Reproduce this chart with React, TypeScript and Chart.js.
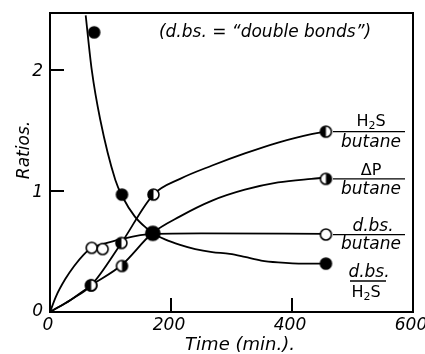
import { useEffect, useRef } from "react";
import { Chart, registerables } from "chart.js";
Chart.register(...registerables);

// Axis ticks
const X_TICKS = [0, 200, 400, 600];
const Y_TICKS = [0, 1, 2];
const X_TICK_LABELS = ["0", "200", "400", "600"];
const Y_TICK_LABELS = ["0", "1", "2"];

// Measured points
const dbsH2sX = [73, 119, 170, 456];
const dbsH2sY = [2.31, 0.97, 0.65, 0.4];
const h2sButaneX = [68, 118, 171, 456];
const h2sButaneY = [0.22, 0.57, 0.97, 1.49];
const dpButaneX = [68, 119, 169, 456];
const dpButaneY = [0.22, 0.38, 0.65, 1.1];
const dbsButaneX = [69, 87, 456];
const dbsButaneY = [0.53, 0.52, 0.64];

// Drawn (fitted) curves
const dbsH2sCurveX = [59, 69, 83, 108, 120, 140, 160, 170, 190, 215, 240, 268, 297, 322, 349, 377, 420, 456];
const dbsH2sCurveY = [2.45, 2.0, 1.59, 1.09, 0.95, 0.79, 0.69, 0.65, 0.6, 0.555, 0.52, 0.495, 0.48, 0.455, 0.425, 0.41, 0.4, 0.4];
const h2sCurveX = [0, 34, 68, 118, 171, 215, 268, 322, 377, 432, 456];
const h2sCurveY = [0, 0.1, 0.22, 0.57, 0.97, 1.1, 1.21, 1.31, 1.4, 1.47, 1.49];
const dpCurveX = [0, 34, 68, 119, 169, 215, 268, 322, 377, 432, 456];
const dpCurveY = [0, 0.1, 0.22, 0.39, 0.65, 0.79, 0.92, 1.01, 1.07, 1.1, 1.11];
const dbsButaneCurveX = [0, 10, 25, 40, 55, 69, 87, 116, 169, 250, 456];
const dbsButaneCurveY = [0, 0.13, 0.27, 0.38, 0.47, 0.53, 0.56, 0.6, 0.645, 0.65, 0.645];

const pts = (xs: number[], ys: number[]) => xs.map((x, i) => ({ x, y: ys[i] }));

function makeMarker(kind: string, r: number): HTMLCanvasElement {
  const s = Math.ceil(2 * r + 4);
  const c = document.createElement("canvas");
  c.width = s;
  c.height = s;
  const g = c.getContext("2d")!;
  const cx = s / 2, cy = s / 2;
  g.lineWidth = 1.6;
  g.beginPath();
  g.arc(cx, cy, r, 0, Math.PI * 2);
  g.fillStyle = kind === "filled" ? "#000" : "#fff";
  g.fill();
  if (kind === "halfLeft" || kind === "halfRight") {
    g.beginPath();
    if (kind === "halfLeft") g.arc(cx, cy, r, Math.PI / 2, Math.PI * 1.5);
    else g.arc(cx, cy, r, -Math.PI / 2, Math.PI / 2);
    g.closePath();
    g.fillStyle = "#000";
    g.fill();
  }
  g.beginPath();
  g.arc(cx, cy, r, 0, Math.PI * 2);
  g.strokeStyle = "#000";
  g.stroke();
  return c;
}

const ITAL = "italic 17px 'DejaVu Sans'";
const UPR = "16px 'DejaVu Sans'";

function drawH2S(ctx: CanvasRenderingContext2D, cx: number, baseY: number) {
  ctx.save();
  ctx.font = UPR;
  ctx.textBaseline = "alphabetic";
  ctx.textAlign = "left";
  const wH = ctx.measureText("H").width;
  ctx.font = "11px 'DejaVu Sans'";
  const w2 = ctx.measureText("2").width;
  ctx.font = UPR;
  const wS = ctx.measureText("S").width;
  const total = wH + w2 + wS;
  let x = cx - total / 2;
  ctx.fillText("H", x, baseY);
  x += wH;
  ctx.font = "11px 'DejaVu Sans'";
  ctx.fillText("2", x, baseY + 3);
  x += w2;
  ctx.font = UPR;
  ctx.fillText("S", x, baseY);
  ctx.restore();
}

const decor = {
  id: "decor",
  afterDraw(chart: any) {
    const { ctx, chartArea: a, scales } = chart;
    const xs = scales.x, ys = scales.y;
    ctx.save();
    ctx.strokeStyle = "#000";
    ctx.fillStyle = "#000";
    ctx.lineWidth = 2;
    ctx.strokeRect(a.left, a.top, a.right - a.left, a.bottom - a.top);
    // inward ticks
    ctx.beginPath();
    X_TICKS.forEach((v) => {
      if (v === 0 || v === 600) return;
      const px = xs.getPixelForValue(v);
      ctx.moveTo(px, a.bottom);
      ctx.lineTo(px, a.bottom - 14);
    });
    Y_TICKS.forEach((v) => {
      if (v === 0) return;
      const py = ys.getPixelForValue(v);
      ctx.moveTo(a.left, py);
      ctx.lineTo(a.left + 14, py);
    });
    ctx.stroke();
    // tick labels
    ctx.font = ITAL;
    ctx.textAlign = "center";
    ctx.textBaseline = "middle";
    X_TICKS.forEach((v, i) => {
      ctx.fillText(X_TICK_LABELS[i], xs.getPixelForValue(v) - 2, a.bottom + 14);
    });
    ctx.textAlign = "right";
    Y_TICKS.forEach((v, i) => {
      ctx.fillText(Y_TICK_LABELS[i], a.left - 7, ys.getPixelForValue(v) + (v === 0 ? 0 : 2));
    });
    // axis titles
    ctx.font = "italic 18px 'DejaVu Sans'";
    ctx.textAlign = "center";
    ctx.fillText("Time (min.).", 240, a.bottom + 33);
    ctx.save();
    ctx.translate(25, 150);
    ctx.rotate(-Math.PI / 2);
    ctx.font = ITAL;
    ctx.fillText("Ratios.", 0, 0);
    ctx.restore();
    // note
    ctx.font = ITAL;
    ctx.textAlign = "center";
    ctx.fillText("(d.bs. = \u201cdouble bonds\u201d)", 265, 33);

    // fraction labels
    ctx.lineWidth = 1.3;
    const frac = (lineY: number, x0: number, x1: number) => {
      ctx.beginPath();
      ctx.moveTo(x0, lineY);
      ctx.lineTo(x1, lineY);
      ctx.stroke();
    };
    const cx = 371;
    // H2S / butane
    let ly = ys.getPixelForValue(h2sButaneY[h2sButaneY.length - 1]);
    frac(ly, 333, 405);
    drawH2S(ctx, cx, ly - 6);
    ctx.font = ITAL;
    ctx.textAlign = "center";
    ctx.textBaseline = "top";
    ctx.fillText("butane", cx, ly + 2);
    // dP / butane
    ly = ys.getPixelForValue(dpButaneY[dpButaneY.length - 1]);
    frac(ly, 333, 405);
    ctx.font = UPR;
    ctx.textBaseline = "alphabetic";
    ctx.fillText("\u0394P", cx, ly - 4);
    ctx.font = ITAL;
    ctx.textBaseline = "top";
    ctx.fillText("butane", cx, ly + 2);
    // d.bs. / butane
    ly = ys.getPixelForValue(dbsButaneY[dbsButaneY.length - 1]);
    frac(ly, 333, 405);
    ctx.textBaseline = "alphabetic";
    ctx.fillText("d.bs.", cx + 2, ly - 4);
    ctx.textBaseline = "top";
    ctx.fillText("butane", cx, ly + 2);
    // d.bs. / H2S
    ly = 281;
    frac(ly, 350, 386);
    ctx.textBaseline = "alphabetic";
    ctx.fillText("d.bs.", 369, ly - 4);
    drawH2S(ctx, 366, ly + 16);
    ctx.restore();
  },
};

export default function App() {
  const ref = useRef<HTMLCanvasElement>(null);
  useEffect(() => {
    const r = 5.5;
    const filled = makeMarker("filled", r);
    const bigFilled = makeMarker("filled", 7);
    const open = makeMarker("open", r);
    const hl = makeMarker("halfLeft", r);
    const hr = makeMarker("halfRight", r);
    const curve = (xs: number[], ys: number[]) => ({
      data: pts(xs, ys),
      borderColor: "#000",
      borderWidth: 1.8,
      pointRadius: 0,
      tension: 0.4,
      cubicInterpolationMode: "monotone" as const,
      fill: false,
    });
    const marks = (xs: number[], ys: number[], style: any) => ({
      data: pts(xs, ys),
      showLine: false,
      pointStyle: style,
      pointRadius: r,
      borderColor: "#000",
      backgroundColor: "#000",
    });
    const chart = new Chart(ref.current!, {
      type: "line",
      data: {
        datasets: [
          marks(dbsH2sX, dbsH2sY, dbsH2sX.map((_, i) => (i === 2 ? bigFilled : filled))),
          marks(dbsButaneX, dbsButaneY, open),
          marks(h2sButaneX, h2sButaneY, hl),
          marks(dpButaneX, dpButaneY, hr),
          curve(dbsH2sCurveX, dbsH2sCurveY),
          curve(h2sCurveX, h2sCurveY),
          curve(dpCurveX, dpCurveY),
          curve(dbsButaneCurveX, dbsButaneCurveY),
        ] as any,
      },
      options: {
        animation: false,
        responsive: false,
        layout: { padding: { left: 50, right: 12, top: 13, bottom: 42 } },
        plugins: { legend: { display: false }, tooltip: { enabled: false } },
        scales: {
          x: { type: "linear", min: 0, max: 600, display: false },
          y: { type: "linear", min: 0, max: 2.47, display: false },
        },
      },
      plugins: [decor],
    });
    return () => chart.destroy();
  }, []);
  return (
    <div style={{ position: "absolute", left: 0, top: 0, width: 425, height: 354, background: "#fff" }}>
      <canvas ref={ref} width={425} height={354} />
    </div>
  );
}
